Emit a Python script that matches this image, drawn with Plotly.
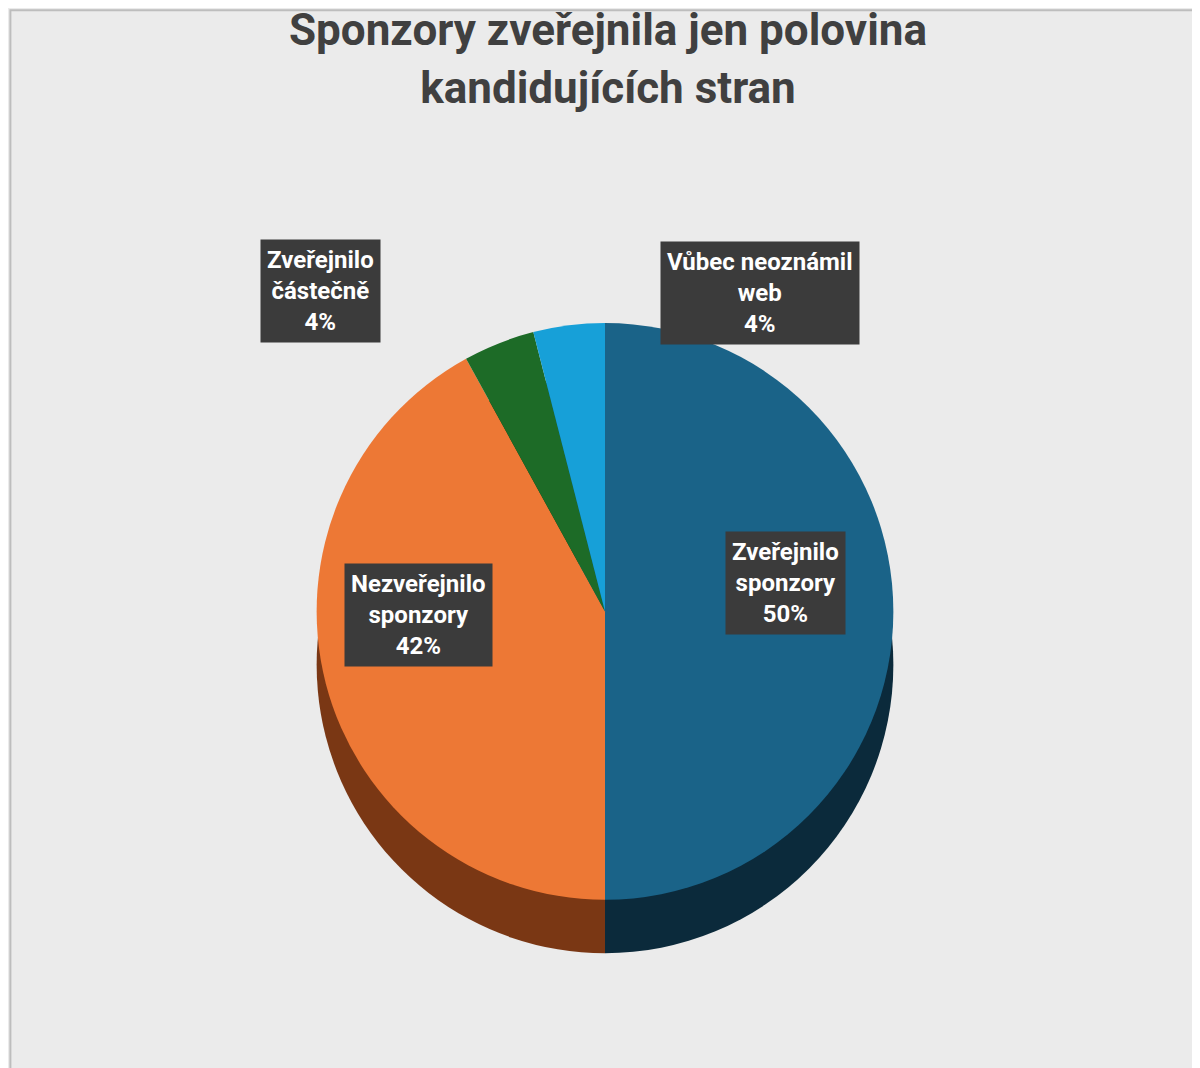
import plotly.graph_objects as go

labels = ["Zveřejnilo sponzory", "Nezveřejnilo sponzory", "Zveřejnilo částečně", "Vůbec neoznámil web"]
values = [50, 42, 4, 4]
colors = ["#1a6388", "#ed7835", "#1d6b27", "#17a0d8"]
side_colors = ["#0b2a3b", "#7a3714", "#0d3612", "#0a5576"]
box_texts = ["Zveřejnilo<br>sponzory<br>50%", "Nezveřejnilo<br>sponzory<br>42%",
             "Zveřejnilo<br>částečně<br>4%", "Vůbec neoznámil<br>web<br>4%"]
box_pos = [(0.648, 0.462), (0.342, 0.432), (0.26, 0.735), (0.627, 0.733)]

fig = go.Figure()
# darker copy below gives the 3D edge
fig.add_trace(go.Pie(labels=labels, values=values, sort=False, direction="clockwise",
                     rotation=0, marker=dict(colors=side_colors), textinfo="none",
                     hoverinfo="skip", showlegend=False,
                     domain=dict(x=[0.15, 0.845], y=[0.115, 0.655])))
fig.add_trace(go.Pie(labels=labels, values=values, sort=False, direction="clockwise",
                     rotation=0, marker=dict(colors=colors), textinfo="none",
                     showlegend=False,
                     domain=dict(x=[0.15, 0.845], y=[0.165, 0.705])))

for t, (x, y) in zip(box_texts, box_pos):
    fig.add_annotation(x=x, y=y, xref="paper", yref="paper", text=t, showarrow=False,
                       xanchor="center", yanchor="middle",
                       font=dict(family="Roboto", size=24, color="white", weight="bold"),
                       bgcolor="#3b3b3b", borderpad=6, align="center")

fig.update_layout(
    width=1200, height=1068,
    margin=dict(l=0, r=0, t=0, b=0),
    paper_bgcolor="#ebebeb",
    title=dict(text="<b>Sponzory zveřejnila jen polovina<br>kandidujících stran</b>",
               x=0.5, y=0.965, xanchor="center", yanchor="top",
               font=dict(family="Roboto", size=44, color="#404040")),
    shapes=[dict(type="rect", xref="paper", yref="paper", x0=0.002, y0=0.003, x1=0.997, y1=0.998,
                 line=dict(color="#bdbdbd", width=2), layer="below")],
)

fig.write_html("out.html")
